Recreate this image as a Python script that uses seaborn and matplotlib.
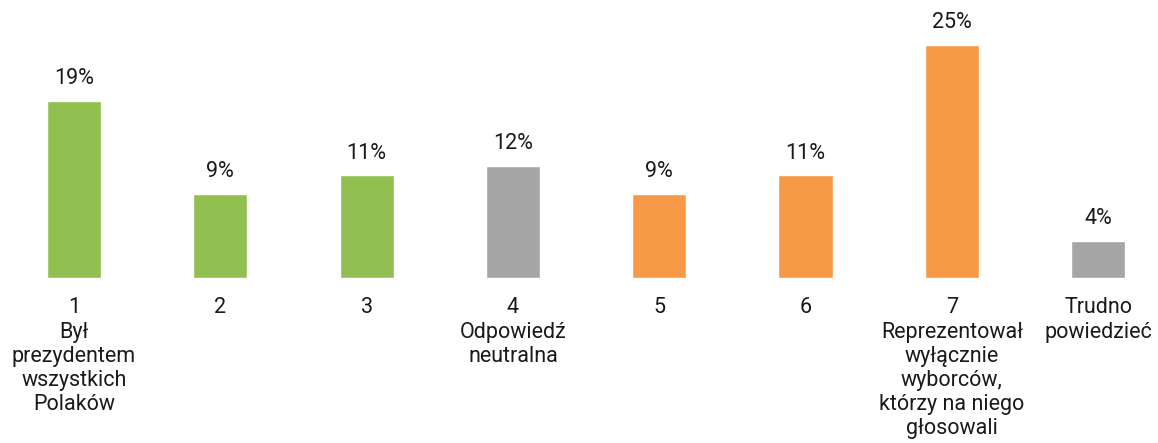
import pandas as pd
import matplotlib.pyplot as plt
import seaborn as sns

# answers on a 1-7 scale plus "hard to say"
labels = ["1\nBył\nprezydentem\nwszystkich\nPolaków", "2", "3",
          "4\nOdpowiedź\nneutralna", "5", "6",
          "7\nReprezentował\nwyłącznie\nwyborców,\nktórzy na niego\ngłosowali",
          "Trudno\npowiedzieć"]
values = [19, 9, 11, 12, 9, 11, 25, 4]
colors = ["#92C050", "#92C050", "#92C050", "#A6A6A6",
          "#F79A48", "#F79A48", "#F79A48", "#A6A6A6"]

df = pd.DataFrame({"label": labels, "value": values})

sns.set_style("white")
plt.rcParams["font.family"] = ["Roboto", "DejaVu Sans"]

fig = plt.figure(figsize=(11.58, 4.43), dpi=100)
ax = fig.add_axes([0, 0.3725, 1, 0.6275])
sns.barplot(data=df, x="label", y="value", hue="label", palette=colors,
            legend=False, width=0.37, saturation=1, ax=ax)

for i, v in enumerate(values):
    ax.annotate(f"{v}%", (i, v), xytext=(0, 8.5), textcoords="offset points",
                ha="center", va="bottom", fontsize=15.5, color="#1a1a1a")

ax.set_xlim(-0.506, 7.409)
ax.set_ylim(0, 29.8)
ax.set_xlabel("")
ax.set_ylabel("")
ax.set_yticks([])
ax.tick_params(axis="x", length=0, pad=14, labelsize=15.5, labelcolor="#1a1a1a")
for t in ax.get_xticklabels():
    t.set_linespacing(1.2)
sns.despine(left=True, bottom=True)

plt.savefig("out.png", dpi=100)
